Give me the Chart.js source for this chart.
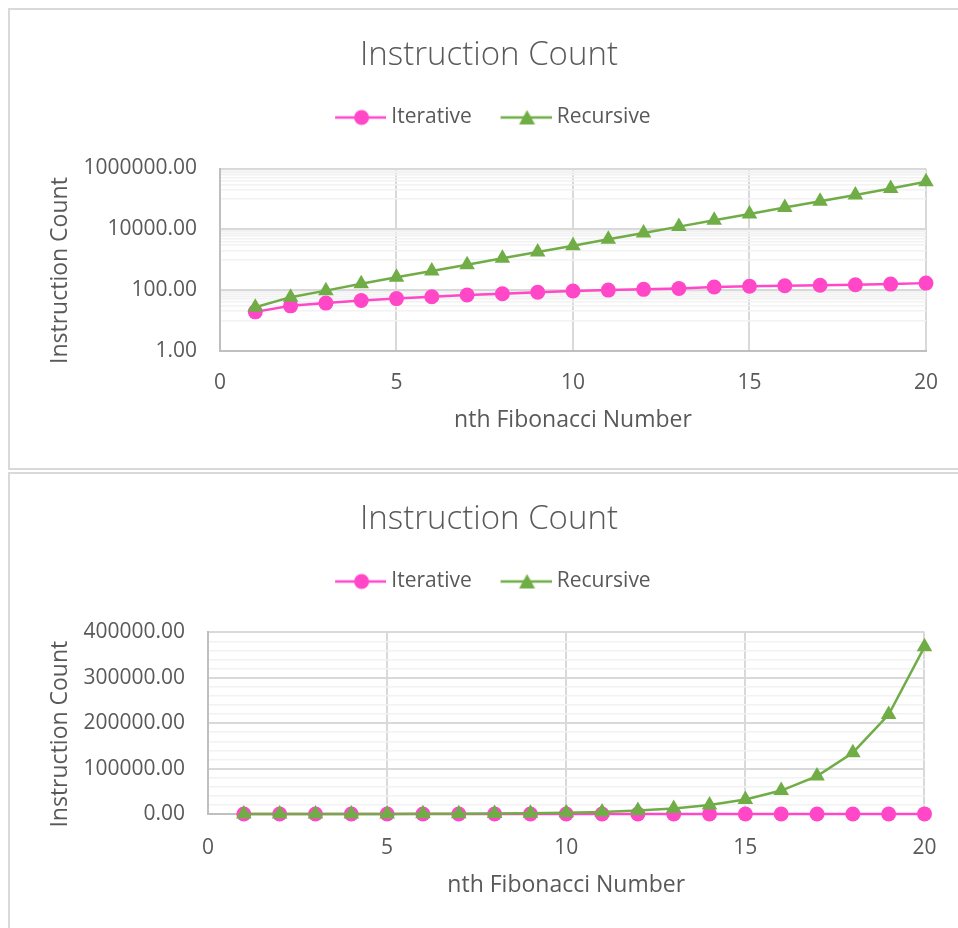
<!DOCTYPE html>
<html>
<head>
<meta charset="utf-8">
<title>Instruction Count</title>
<script src="https://cdn.jsdelivr.net/npm/chart.js@4/dist/chart.umd.min.js"></script>
<style>
  html, body { margin: 0; padding: 0; background: #ffffff; width: 958px; height: 928px; overflow: hidden; }
  .panel { position: absolute; left: 8px; width: 1000px; box-sizing: border-box; border: 2px solid #d9d9d9; background: #ffffff; }
  #panelLog { top: 8px; height: 462px; }
  #panelLin { top: 472px; height: 500px; }
  canvas { position: absolute; left: 0; top: 0; }
</style>
</head>
<body>
<div class="panel" id="panelLog"><canvas id="logChart" width="948" height="458"></canvas></div>
<div class="panel" id="panelLin"><canvas id="linChart" width="948" height="454"></canvas></div>
<script>
// n-th Fibonacci number that was computed
const fibN = [1, 2, 3, 4, 5, 6, 7, 8, 9, 10, 11, 12, 13, 14, 15, 16, 17, 18, 19, 20];
// instructions executed by each implementation
const iterativeCounts = [19, 30, 37, 45, 52, 60, 68, 75, 84, 92, 99, 105, 112, 125, 133, 138, 143, 149, 156, 168];
const recursiveCounts = [27, 58, 95, 160, 262, 420, 680, 1100, 1780, 2880, 4660, 7540, 12200, 19700, 31900, 51600, 83500, 135000, 219000, 368000];

const seriesNames = ['Iterative', 'Recursive'];
const chartTitle = 'Instruction Count';
const xAxisTitle = 'nth Fibonacci Number';
const yAxisTitle = 'Instruction Count';

const xTickValues = [0, 5, 10, 15, 20];
const logLabelTicks = [1, 100, 10000, 1000000];
const logMinorTicks = [10, 20, 30, 40, 50, 60, 70, 80, 90,
                       1000, 2000, 3000, 4000, 5000, 6000, 7000, 8000, 9000,
                       100000, 200000, 300000, 400000, 500000, 600000, 700000, 800000, 900000];
const linLabelTicks = [0, 100000, 200000, 300000, 400000];
const linMinorStep = 20000;

const TEXT = '#595959';
const MAJOR_GRID = '#d9d9d9';
const MINOR_GRID = '#f2f2f2';
const AXIS_LINE = '#bfbfbf';
const PINK = '#ff47c8';
const GREEN = '#70ad47';
const FONT = '"Open Sans"';

// legend glyph: a short line with the series marker in the middle,
// drawn with a transparent margin on the left so it sits after the box start
function legendGlyph(color, marker) {
  const c = document.createElement('canvas');
  c.width = 64; c.height = 20;
  const g = c.getContext('2d');
  const x0 = 13, x1 = x0 + 53, cx = x0 + 26.5;
  g.strokeStyle = color; g.lineWidth = 2.5;
  g.beginPath(); g.moveTo(x0, 10); g.lineTo(x1, 10); g.stroke();
  g.fillStyle = color;
  g.beginPath();
  if (marker === 'circle') {
    g.arc(cx, 10, 7.5, 0, Math.PI * 2);
  } else {
    g.moveTo(cx, 2.5); g.lineTo(cx + 8, 17); g.lineTo(cx - 8, 17); g.closePath();
  }
  g.fill();
  return c;
}
const legendGlyphs = [legendGlyph(PINK, 'circle'), legendGlyph(GREEN, 'triangle')];

// vertical axis title, centred a little below the middle of the plot
const yTitlePlugin = {
  id: 'yTitle',
  afterDraw(chart, args, opts) {
    const { ctx, chartArea } = chart;
    ctx.save();
    ctx.translate(opts.x, (chartArea.top + chartArea.bottom) / 2 + opts.shift);
    ctx.rotate(-Math.PI / 2);
    ctx.font = '23px ' + FONT;
    ctx.fillStyle = TEXT;
    ctx.textAlign = 'center';
    ctx.textBaseline = 'middle';
    ctx.fillText(opts.text, 0, 0);
    ctx.restore();
  }
};

function buildDatasets() {
  return [
    {
      label: seriesNames[0],
      data: fibN.map((n, i) => ({ x: n, y: iterativeCounts[i] })),
      borderColor: PINK, backgroundColor: PINK, borderWidth: 2.5,
      pointStyle: 'circle', pointRadius: 7.5, pointHoverRadius: 7.5, pointBorderWidth: 0,
      tension: 0, order: 1, clip: false, xAxisID: 'x', yAxisID: 'y'
    },
    {
      label: seriesNames[1],
      data: fibN.map((n, i) => ({ x: n, y: recursiveCounts[i] })),
      borderColor: GREEN, backgroundColor: GREEN, borderWidth: 2.5,
      pointStyle: 'triangle', pointRadius: 9, pointHoverRadius: 9, pointBorderWidth: 0,
      tension: 0, order: 0, clip: false, xAxisID: 'x', yAxisID: 'y'
    }
  ];
}

function makeChart(canvas, geo, yScale) {
  const H = canvas.height;
  const PAD_LEFT = 41;
  return new Chart(canvas, {
    type: 'line',
    data: { datasets: buildDatasets() },
    plugins: [yTitlePlugin],
    options: {
      responsive: false,
      animation: false,
      events: [],
      layout: { padding: { left: PAD_LEFT, right: canvas.width - geo.plotRight, top: 0, bottom: 0 }, autoPadding: false },
      plugins: {
        tooltip: { enabled: false },
        yTitle: { text: yAxisTitle, x: 50, shift: 11 },
        title: {
          display: true, text: chartTitle, color: TEXT,
          font: { family: FONT, weight: 300, size: 33, lineHeight: 1.1 },
          padding: { top: 27.85, bottom: 11.85 }
        },
        legend: {
          display: true, position: 'top', align: 'center',
          labels: {
            usePointStyle: true, pointStyleWidth: 53.5, padding: 21,
            color: TEXT, font: { family: FONT, size: 21 },
            sort: (a, b) => a.datasetIndex - b.datasetIndex,
            generateLabels(chart) {
              const items = Chart.defaults.plugins.legend.labels.generateLabels(chart);
              items.forEach((it) => { it.pointStyle = legendGlyphs[it.datasetIndex]; });
              return items;
            }
          }
        }
      },
      scales: {
        x: {
          type: 'linear', axis: 'x', position: 'bottom', min: 0, max: 20,
          afterBuildTicks: (s) => { s.ticks = xTickValues.map((v) => ({ value: v })); },
          afterFit: (s) => { s.height = H - geo.plotBottom; },
          ticks: { autoSkip: false, maxRotation: 0, padding: geo.xTickPad, color: TEXT, font: { family: FONT, size: 21 } },
          grid: { drawTicks: false, color: MAJOR_GRID, lineWidth: 2 },
          border: { display: true, color: AXIS_LINE, width: 2 },
          title: { display: true, text: xAxisTitle, color: TEXT, font: { family: FONT, size: 23 },
                   padding: { top: 0, bottom: geo.xTitlePad } }
        },
        // empty band between the legend and the plot
        gap: {
          type: 'linear', axis: 'x', position: 'top', display: true,
          grid: { display: false }, border: { display: false }, ticks: { display: false },
          afterFit: (s) => { s.height = geo.gap; }
        },
        y: Object.assign({
          position: 'left', axis: 'y',
          afterFit: (s) => { s.width = geo.plotLeft - PAD_LEFT; },
          border: { display: true, color: AXIS_LINE, width: 2 },
          title: { display: false }
        }, yScale)
      }
    }
  });
}

// logarithmic chart
const logGrid = logLabelTicks.concat(logMinorTicks).sort((a, b) => a - b);
makeChart(document.getElementById('logChart'),
  { plotLeft: 210, plotRight: 917, plotBottom: 340.7, gap: 30.5, xTickPad: 20, xTitlePad: 34.2 },
  {
    type: 'logarithmic', min: 1, max: 1000000,
    afterBuildTicks: (s) => { s.ticks = logGrid.map((v) => ({ value: v })); },
    ticks: {
      autoSkip: false, padding: 23, color: TEXT, font: { family: FONT, size: 21 },
      callback: (v) => (logLabelTicks.includes(v) ? Number(v).toFixed(2) : '')
    },
    grid: {
      drawTicks: false,
      color: (ctx) => (ctx.tick && logLabelTicks.includes(ctx.tick.value) ? MAJOR_GRID : MINOR_GRID),
      lineWidth: (ctx) => (ctx.tick && logLabelTicks.includes(ctx.tick.value) ? 2 : 1.5)
    }
  });

// linear chart
makeChart(document.getElementById('linChart'),
  { plotLeft: 198, plotRight: 917, plotBottom: 340, gap: 30.3, xTickPad: 21.5, xTitlePad: 29.2 },
  {
    type: 'linear', min: 0, max: 400000,
    ticks: {
      stepSize: linMinorStep, autoSkip: false, padding: 23, color: TEXT, font: { family: FONT, size: 21 },
      callback: (v) => (linLabelTicks.includes(v) ? Number(v).toFixed(2) : '')
    },
    grid: {
      drawTicks: false,
      color: (ctx) => (ctx.tick && linLabelTicks.includes(ctx.tick.value) ? MAJOR_GRID : MINOR_GRID),
      lineWidth: (ctx) => (ctx.tick && linLabelTicks.includes(ctx.tick.value) ? 2 : 1.5)
    }
  });
</script>
</body>
</html>
